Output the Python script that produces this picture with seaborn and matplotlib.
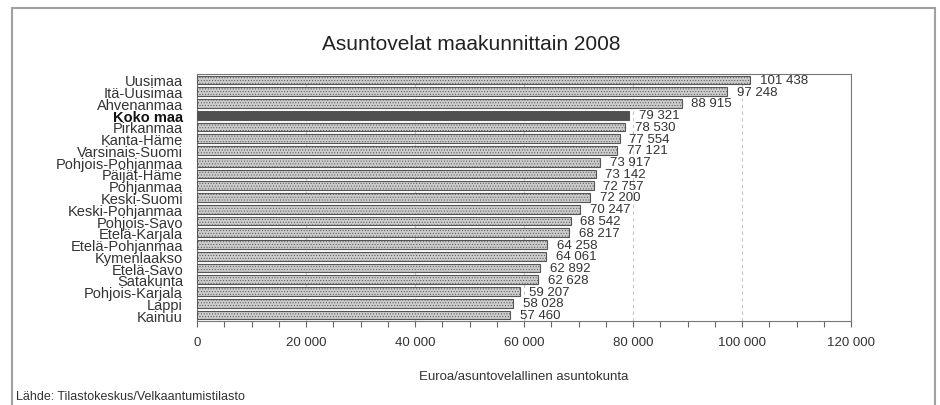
import matplotlib
matplotlib.use("Agg")
import matplotlib.pyplot as plt
from matplotlib.patches import Rectangle
from matplotlib.ticker import MultipleLocator, FuncFormatter
import seaborn as sns
import pandas as pd

# --- data ---
regions = ["Uusimaa", "Itä-Uusimaa", "Ahvenanmaa", "Koko maa", "Pirkanmaa",
           "Kanta-Häme", "Varsinais-Suomi", "Pohjois-Pohjanmaa", "Päijät-Häme",
           "Pohjanmaa", "Keski-Suomi", "Keski-Pohjanmaa", "Pohjois-Savo",
           "Etelä-Karjala", "Etelä-Pohjanmaa", "Kymenlaakso", "Etelä-Savo",
           "Satakunta", "Pohjois-Karjala", "Lappi", "Kainuu"]
debt = [101438, 97248, 88915, 79321, 78530, 77554, 77121, 73917, 73142,
        72757, 72200, 70247, 68542, 68217, 64258, 64061, 62892, 62628,
        59207, 58028, 57460]
highlight = "Koko maa"

title = "Asuntovelat maakunnittain 2008"
xlabel = "Euroa/asuntovelallinen asuntokunta"
source = "Lähde: Tilastokeskus/Velkaantumistilasto"

df = pd.DataFrame({"region": regions, "debt": debt})

sns.set_style("white")
plt.rcParams["font.family"] = ["Liberation Sans", "DejaVu Sans"]
plt.rcParams["hatch.color"] = "#b0b0b0"
plt.rcParams["hatch.linewidth"] = 0.4

fig = plt.figure(figsize=(9.4, 4.06), dpi=100)
ax = fig.add_axes([197 / 940, 1 - 322 / 406, (851 - 197) / 940, (322 - 75) / 406])

colors = {r: ("#505050" if r == highlight else "#cbcbcb") for r in regions}
sns.barplot(data=df, x="debt", y="region", hue="region", palette=colors,
            legend=False, orient="h", width=0.74, edgecolor="#555555",
            linewidth=0.8, ax=ax, zorder=3)

for bar, r in zip(ax.patches, regions):
    if r != highlight:
        bar.set_hatch("......")

fmt = lambda v: f"{int(v):,}".replace(",", " ")
for bar, v in zip(ax.patches, debt):
    ax.text(v + 1800, bar.get_y() + bar.get_height() / 2, fmt(v),
            va="center", ha="left", fontsize=9.5, color="#333333", zorder=4)

ax.set_xlim(0, 120000)
ax.set_ylim(len(regions) - 0.5, -0.5)
ax.xaxis.set_major_locator(MultipleLocator(20000))
ax.xaxis.set_minor_locator(MultipleLocator(5000))
ax.xaxis.set_major_formatter(FuncFormatter(lambda v, p: fmt(v)))
ax.grid(axis="x", which="major", linestyle=(0, (3, 3)), color="#c8c8c8",
        linewidth=0.8, zorder=0)
ax.tick_params(axis="x", which="both", direction="out", length=4, width=0.8,
               color="#666666", labelsize=9.5, labelcolor="#333333", pad=7,
               bottom=True)
ax.tick_params(axis="y", length=0, pad=10, labelsize=10.5, labelcolor="#333333")
for lbl in ax.get_yticklabels():
    if lbl.get_text() == highlight:
        lbl.set_fontweight("bold")
        lbl.set_color("#111111")

for s in ax.spines.values():
    s.set_color("#777777")
    s.set_linewidth(0.8)

ax.set_ylabel("")
ax.set_xlabel(xlabel, fontsize=9.5, color="#333333", labelpad=16)
fig.text(471 / 940, 1 - 44 / 406, title, ha="center",
         va="center", fontsize=15, color="#222222")
fig.text(16 / 940, 1 - 397 / 406, source, ha="left", va="center",
         fontsize=9, color="#333333")

fig.patches.append(Rectangle((12 / 940, -0.05), (935 - 12) / 940, 1.05 - 9 / 406,
                             transform=fig.transFigure, fill=False,
                             edgecolor="#a0a0a0", linewidth=1.5))

fig.savefig("out.png", dpi=100)
